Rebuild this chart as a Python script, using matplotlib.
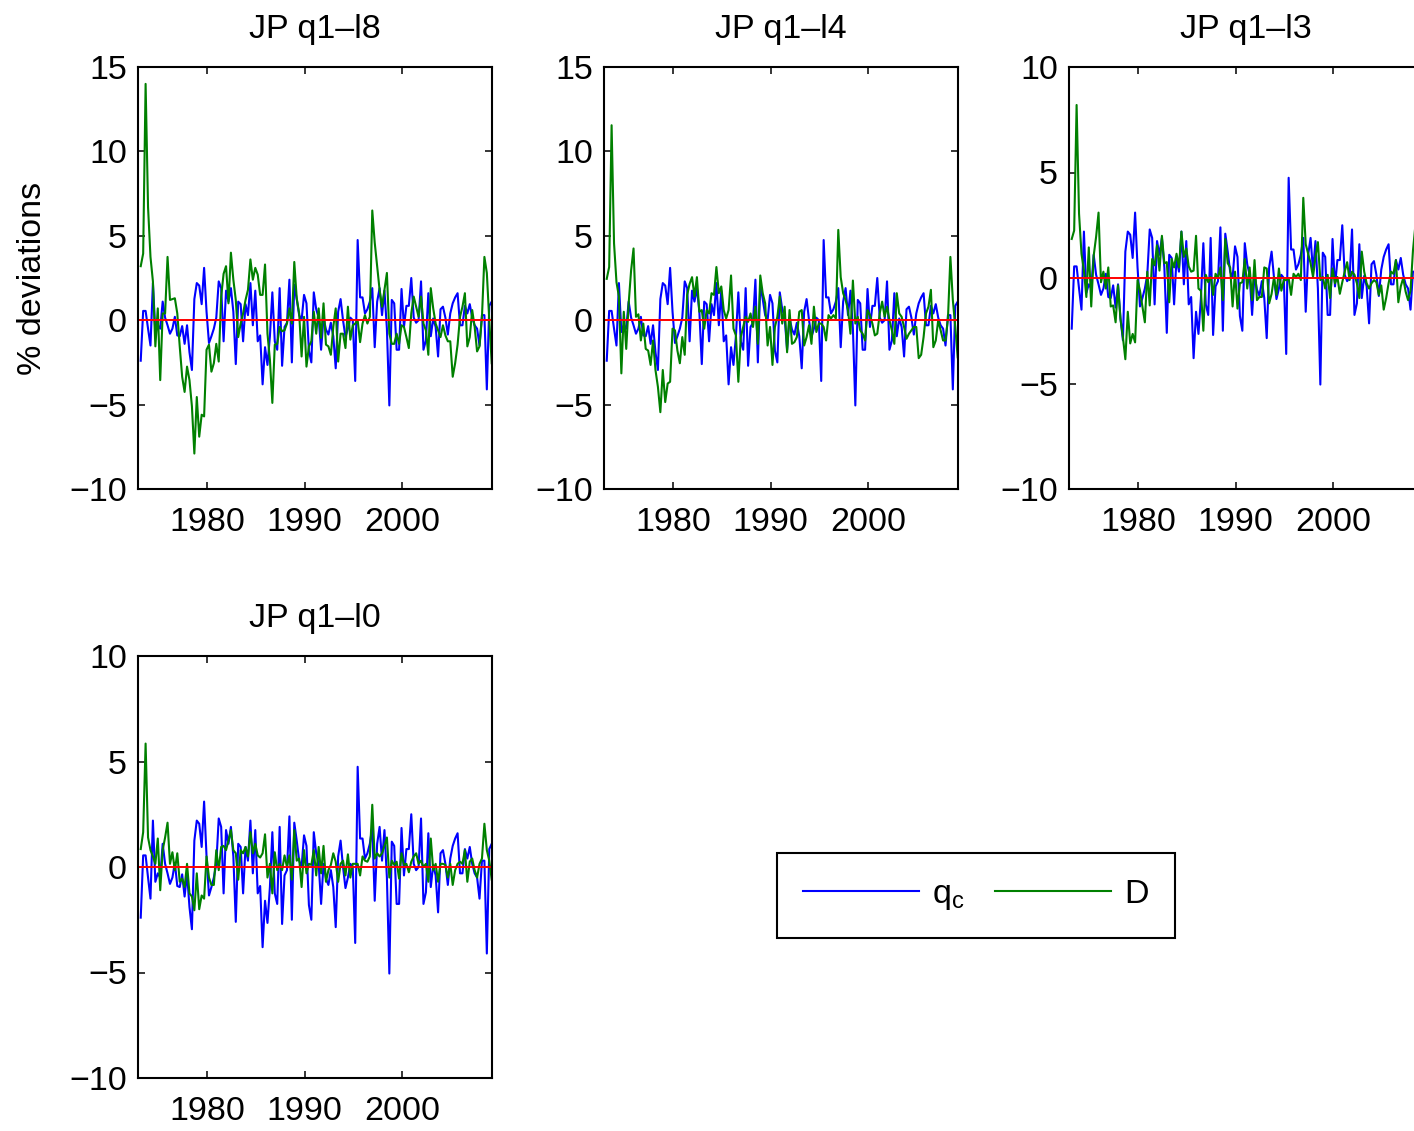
import numpy as np
import matplotlib
matplotlib.use("Agg")
import matplotlib.pyplot as plt

plt.rcParams['font.family'] = ['Liberation Sans', 'DejaVu Sans']

start_year = 1973.2
xtick_years = [1980, 1990, 2000]

# q_c series (identical in every panel)
qc = [
    -2.4, 0.55, 0.55, -0.5, -1.5, 2.2, -0.7, -0.3, -0.5, 1.1,
    0.15, -0.3, -0.8, -0.5, 0.2, -0.9, -0.95, -0.35, -1.4, -0.3,
    -1.9, -2.95, 1.25, 2.2, 2.05, 0.95, 3.1, 0.5, -1.35, -0.95,
    -0.5, 0.15, 2.3, 1.9, -1.25, 1.75, 1.1, 1.9, 0.5, -2.6,
    1.1, 0.95, -1.25, 0.95, 0.3, 2.2, -0.3, 1.75, -1.25,
    -0.9, -3.8, -1.6, -2.65, -0.95, 1.65, -1.25, -1.75, 1.9, -2.7,
    -0.4, -0.15, 2.4, -2.5, 2.1, 1.25, 0.3, 0.0, 1.5, 1.0,
    -1.8, -2.5, 1.65, 0.65, 0.15, -1.75, 0.15, -0.55, -0.85, -0.15,
    -0.95, -2.85, 0.5, 1.25, 0.0, -1.0, -0.5, 0.15, 0.0, -3.6,
    4.75, 1.35, 1.35, 0.4, 0.65, 1.1, 1.9, -1.6, 1.1, 1.9,
    0.3, 1.75, -0.5, -5.05, 1.2, 1.0, -1.75, -1.75, 1.85, -0.4,
    0.85, 0.85, 2.5, 0.15, -0.15, 0.0, 2.3, -1.75, -1.2, 1.6,
    -0.95, 0.1, -0.4, -2.15, 0.65, 0.8, 0.15, -0.85, 0.4, 1.0,
    1.35, 1.6, -0.3, -0.3, 0.85, 0.4, 0.95, 0.15, -0.3, -0.5,
    -1.5, 0.3, 0.3, -4.1, 0.85, 1.1,
]

# D series for each specification
D_l8 = [
    3.2, 3.95, 14.0, 6.7, 3.75, 2.3, -1.55, 0.7, -3.55, 0.4,
    0.4, 3.75, 1.2, 1.25, 1.3, 0.4, -1.55, -3.35, -4.25, -2.75,
    -3.55, -5.1, -7.9, -4.55, -6.9, -5.6, -5.7, -1.75, -1.45, -3.05,
    -2.55, -1.4, -2.45, 1.4, 2.75, 3.2, 1.0, 4.0, 2.4, 1.2,
    -1.0, -0.2, 0.4, 1.2, 1.8, 3.6, 2.4, 3.1, 2.7,
    1.5, 1.5, 3.3, -0.8, -2.35, -4.9, -1.45, -1.4, -0.4, -0.65,
    -0.6, -0.2, 0.7, -0.2, 3.45, 1.3, 0.4, -2.15, 0.2, -2.75,
    -1.55, -1.25, 0.5, -0.8, 0.7, -1.05, 1.0, -1.45, -1.55, -2.05,
    -0.4, 0.7, -2.45, -0.8, -0.8, -1.65, 0.8, -1.15, -0.3, -0.2,
    0.0, -1.3, -0.2, 0.3, -0.2, 0.2, 6.5, 4.6, 3.2, 1.8,
    0.8, 1.8, 2.8, -0.8, -1.4, -1.4, -0.8, -1.4, -0.3, -0.4,
    -1.0, -1.65, 0.4, 1.4, 0.8, 0.2, 1.4, -0.2, -0.6, -2.05,
    1.9, 0.7, -0.2, -0.6, -1.0, -0.3, -0.9, -1.25, -1.25, -3.35,
    -2.55, -1.45, 0.2, 0.8, 1.6, -1.55, -1.0, 0.6, -0.4, -1.85,
    -1.55, 0.2, 3.75, 2.8, 0.0, -2.55,
]

D_l4 = [
    2.45, 3.15, 11.55, 4.55, 2.25, 1.4, -3.15, 0.5, -1.7, 1.0,
    2.95, 4.25, 0.2, 0.35, -1.2, -0.2, -1.7, -1.8, -2.65, -1.2,
    -2.95, -3.95, -5.45, -2.95, -4.85, -3.75, -3.65, -0.5, -0.6, -1.8,
    -2.55, -1.0, -2.05, 1.5, 2.15, 2.55, 1.4, 2.55, 0.5, 0.6,
    -0.5, 0.6, 0.4, 1.6, 1.5, 3.15, 1.6, 2.0, 0.6,
    0.1, 0.6, 2.65, -0.5, -0.9, -3.65, -1.0, -0.4, 0.2, -0.1,
    0.4, -0.4, 0.8, -1.4, 2.65, 1.6, 1.0, -1.5, -0.4, -2.65,
    -0.4, 0.2, 1.4, -0.2, 0.8, -1.9, 0.6, -1.4, -1.3, -1.0,
    0.5, 0.6, -1.5, -1.0, -0.3, -1.4, 0.8, -0.7, -0.2, -0.2,
    -0.4, -1.2, 0.3, 0.1, 0.3, 0.1, 5.35, 2.55, 1.6,
    1.2, 0.6, -0.8, 2.35, -0.2, 0.2, -0.6, -0.8, -1.2, 0.6,
    0.3, -0.2, -0.9, -0.8, 0.4, 1.1, 0.2, 0.8, 0.0, -0.6,
    -1.4, 1.6, 0.4, 0.2, -0.4, -1.1, -0.8, -0.6, -0.4, -0.4,
    -2.25, -2.05, -1.0, 0.4, 0.8, 1.8, -1.6, -1.2, 0.0, -0.6,
    -1.2, -1.2, 0.1, 3.75, 1.2, -0.4, -2.2,
]

D_l3 = [
    1.85, 2.25, 8.2, 3.05, 1.15, 0.35, -0.9, 1.45, -1.35, 1.05,
    1.95, 3.1, -0.2, 0.3, -0.5, 0.5, -1.35, -1.3, -2.1, -0.35,
    -1.95, -2.8, -3.85, -1.6, -3.1, -2.65, -3.05, -0.1, -0.6, -1.35,
    -2.1, 0.3, -1.3, 0.9, 0.6, 1.55, 0.35, 2.0, 0.7, 0.75,
    -1.15, 0.9, 0.5, 1.15, 0.5, 2.2, 1.0, 1.4, 0.55,
    0.3, 0.35, 2.0, -0.5, -0.6, -2.5, 0.15, -0.2, 0.05, -0.8,
    0.2, 0.0, 0.5, -1.05, 1.85, 0.7, 0.5, -1.35, 0.3, -1.45,
    -0.25, -0.2, 0.9, -0.5, 0.5, -1.05, 0.85, -1.05, -0.9, -0.9,
    0.5, 0.45, -1.2, -0.75, 0.05, -0.8, 0.45, -0.6, -0.1, -0.1,
    0.0, -0.8, 0.2, 0.05, 0.2, -0.1, 3.8, 1.6, 1.15,
    0.7, 0.05, 1.0, 1.7, -0.1, 0.05, -0.5, 0.15, -0.95, 0.45,
    -0.25, 0.05, -0.75, -0.2, 0.3, 0.75, -0.1, 0.3, 0.15, -0.25,
    -0.95, 1.25, 0.3, -0.25, -0.5, -0.25, -0.1, -0.2, -0.8, -0.35,
    -1.5, -0.95, -0.25, 0.3, 0.2, 0.85, -1.15, -0.4, 0.0, -0.65,
    -1.05, -0.6, 1.3, 2.5, 1.0, 0.2, -0.8,
]

D_l0 = [
    0.85, 1.65, 5.85, 1.4, 0.8, 0.5, 0.15, 1.35, -1.1, 0.8,
    1.4, 2.1, 0.15, 0.7, -0.15, 0.65, -0.7, -0.55, -0.95, 0.15,
    -1.25, -1.4, -2.05, -0.3, -2.0, -1.35, -1.5, 0.5, -0.5, -0.85,
    -0.85, 0.8, -0.15, 0.95, 1.0, 0.8, 1.25, 1.75, 0.8, 0.65,
    -0.6, 0.8, 0.65, 0.95, 0.5, 1.65, 0.65, 1.1, 0.55,
    0.45, 0.65, 1.55, -0.5, 0.15, -1.25, 0.7, -0.15, 0.15, -0.15,
    0.55, 0.0, 0.55, -0.6, 1.75, 0.3, 0.4, -0.95, 0.8, -0.3,
    0.15, 0.1, 0.8, -0.4, 0.95, -0.3, 1.0, -0.7, -0.15, 0.1,
    0.65, 0.25, -0.7, 0.15, 0.3, -0.4, 0.6, -0.5, 0.15, 0.15,
    0.15, -0.4, 0.5, 0.3, 0.25, 0.5, 2.95, 0.4, 0.65, 0.5,
    0.65, 1.0, 1.4, -0.5, 0.3, 0.1, 0.25, -0.55, 0.65, 0.1,
    0.15, -0.25, 0.25, 0.5, 0.65, 0.15, 0.3, 0.0, 0.15, -0.7,
    1.35, -0.15, 0.15, -0.7, 0.15, 0.15, 0.1, -0.5, 0.15, -0.85,
    -0.15, 0.15, 0.25, 0.15, 0.8, -0.7, 0.25, 0.4, -0.15, -0.5,
    0.15, 0.4, 2.05, 0.8, 0.3, -0.6,
]

titles = ['JP q1\u2013l8', 'JP q1\u2013l4', 'JP q1\u2013l3', 'JP q1\u2013l0']
D_series = [D_l8, D_l4, D_l3, D_l0]
ylims = [(-10, 15), (-10, 15), (-10, 10), (-10, 10)]
yticks = [[-10, -5, 0, 5, 10, 15], [-10, -5, 0, 5, 10, 15],
          [-10, -5, 0, 5, 10], [-10, -5, 0, 5, 10]]

W, H = 1414, 1131
fig = plt.figure(figsize=(W / 100, H / 100), dpi=100)

# axes boxes in pixels: (left, top, right, bottom)
boxes = [(138, 67, 492, 489), (604, 67, 958, 489),
         (1069, 67, 1423, 489), (138, 656, 492, 1078)]

FS = 24.5
LW = 1.5
lines_for_legend = None
for i, (box, title, D, yl, yt) in enumerate(zip(boxes, titles, D_series, ylims, yticks)):
    l, t, r, b = box
    ax = fig.add_axes([l / W, 1 - b / H, (r - l) / W, (b - t) / H])
    x_q = start_year + 0.25 * np.arange(len(qc))
    x_d = start_year + 0.25 * np.arange(len(D))
    lq, = ax.plot(x_q, qc, color=(0, 0, 1), lw=LW)
    ld, = ax.plot(x_d, D, color=(0, 0.5, 0), lw=LW)
    ax.axhline(0, color=(1, 0, 0), lw=1.4)
    ax.set_xlim(1972.92, 2009.23)
    ax.set_ylim(*yl)
    ax.set_yticks(yt)
    ax.set_xticks(xtick_years)
    ax.tick_params(direction='in', top=True, right=True, length=5, width=1.1,
                   labelsize=FS)
    ax.tick_params(axis='x', pad=13)
    ax.tick_params(axis='y', pad=8)
    for s in ax.spines.values():
        s.set_linewidth(1.5)
    ax.set_title(title, fontsize=FS, pad=21)
    if i == 0:
        ax.set_ylabel('% deviations', fontsize=FS)
        ax.yaxis.set_label_coords(-0.255, 0.5)
    lines_for_legend = (lq, ld)

leg = fig.legend(lines_for_legend, [r'$\mathregular{q_c}$', 'D'], ncol=2,
                 loc='center', bbox_to_anchor=(976 / W, 1 - 895.5 / H),
                 fontsize=FS, handlelength=3.4, handletextpad=0.4,
                 columnspacing=0.9, borderpad=0.75, fancybox=False,
                 edgecolor='black', framealpha=1)
leg.get_frame().set_linewidth(1.5)

fig.savefig('out.png', dpi=100)
